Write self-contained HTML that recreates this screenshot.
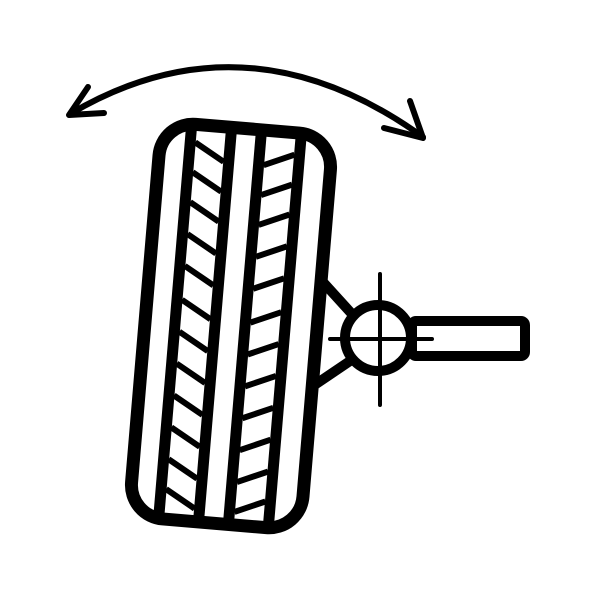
<!DOCTYPE html>
<html><head><meta charset="utf-8"><style>html,body{margin:0;padding:0;background:#fff}svg{display:block}</style></head>
<body>
<svg width="612" height="612" viewBox="0 0 612 612" fill="none" stroke="#000" stroke-linecap="round" stroke-linejoin="round">
  <g stroke-width="6">
    <path d="M70,114 Q246,10 423,137"/>
    <path d="M88,87 L69,115 L104,113"/>
    <path d="M384,128 L423,138 L410,101"/>
  </g>
  <g transform="translate(231,326) rotate(4.8)">
    <rect x="-86" y="-198" width="172" height="396" rx="34" stroke-width="13"/>
    <g stroke-width="11" stroke-linecap="butt">
      <line x1="-56" y1="-198" x2="-56" y2="198"/>
      <line x1="-16" y1="-198" x2="-16" y2="198"/>
      <line x1="14" y1="-198" x2="14" y2="198"/>
      <line x1="54" y1="-198" x2="54" y2="198"/>
    </g>
    <g stroke-width="6" stroke-linecap="butt" id="tread"></g>
  </g>
  <g>
    <path d="M322,281 L352,314 M316,384 L350,361" stroke-width="10"/>
    <rect x="412" y="321" width="113" height="35" rx="4" stroke-width="10"/>
    <circle cx="378" cy="338" r="33" stroke-width="10"/>
    <path d="M380,274 L380,405 M330,339 L432,339" stroke-width="4"/>
  </g>
</svg>
<script>
var treadY = [-180,-150,-120,-88,-56,-22,10,42,74,106,138,168];
var g = document.getElementById('tread');
treadY.forEach(function(y){
  var l1 = document.createElementNS('http://www.w3.org/2000/svg','line');
  l1.setAttribute('x1',-51);l1.setAttribute('y1',y);l1.setAttribute('x2',-21);l1.setAttribute('y2',y+17);
  
  
  g.appendChild(l1);
  var l2 = document.createElementNS('http://www.w3.org/2000/svg','line');
  l2.setAttribute('x1',19);l2.setAttribute('y1',y+17);l2.setAttribute('x2',49);l2.setAttribute('y2',y+4);
  
  
  g.appendChild(l2);
});
</script>
</body></html>
